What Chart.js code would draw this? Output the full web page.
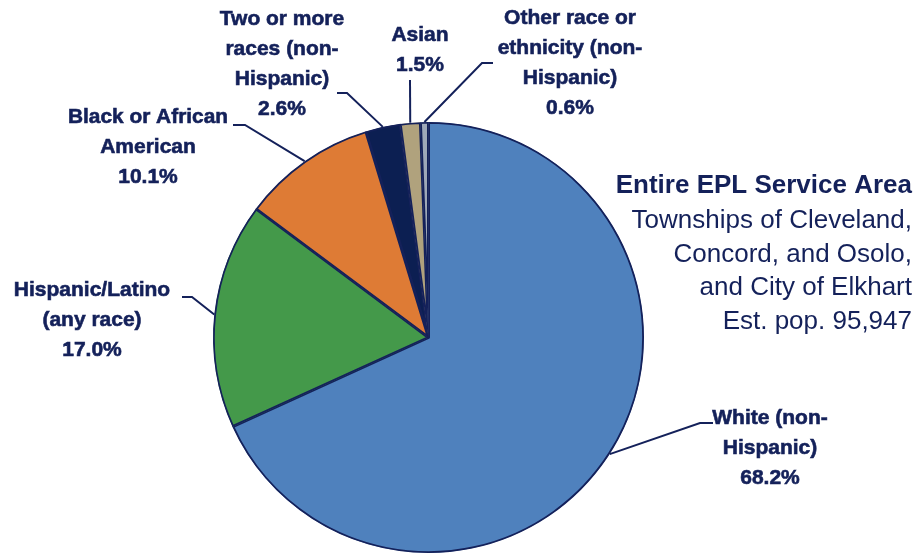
<!DOCTYPE html>
<html lang="en">
<head>
<meta charset="UTF-8">
<title>Entire EPL Service Area - Race and Ethnicity</title>
<script src="https://cdn.jsdelivr.net/npm/chart.js"></script>
<style>
  html, body { margin: 0; padding: 0; background: #ffffff; }
  #wrap { position: relative; width: 915px; height: 554px; }
</style>
</head>
<body>
<div id="wrap"><canvas id="myChart"></canvas></div>
<script>
// chart data
const categories = [
  'White (non-Hispanic)',
  'Hispanic/Latino (any race)',
  'Black or African American',
  'Two or more races (non-Hispanic)',
  'Asian',
  'Other race or ethnicity (non-Hispanic)'
];
const shares = [68.2, 17.0, 10.1, 2.6, 1.5, 0.6];
const sliceColors = ['#4F81BD', '#44994A', '#DE7B35', '#0C1F52', '#B0A27D', '#9EA8B8'];
// how each label is broken into lines (percentage added below)
const labelLines = [
  ['White (non-', 'Hispanic)'],
  ['Hispanic/Latino', '(any race)'],
  ['Black or African', 'American'],
  ['Two or more', 'races (non-', 'Hispanic)'],
  ['Asian'],
  ['Other race or', 'ethnicity (non-', 'Hispanic)']
];
const titleLines = ['Entire EPL Service Area'];
const subtitleLines = ['Townships of Cleveland,', 'Concord, and Osolo,', 'and City of Elkhart', 'Est. pop. 95,947'];

const navy = '#14215A';

// where labels sit and where their leader lines bend
const labelLayout = [
  { cx: 770, y: 418, bend: [700, 423], end: [713, 423] },
  { cx: 92,  y: 290, bend: [192, 297], end: [182, 297] },
  { cx: 148, y: 117, bend: [245, 125], end: [233, 125] },
  { cx: 282, y: 19,  bend: [347, 93],  end: [337, 93] },
  { cx: 420, y: 35,  bend: [410, 80],  end: null },
  { cx: 570, y: 18,  bend: [482, 63],  end: [493, 63] }
];

const labelPlugin = {
  id: 'sliceLabels',
  afterDraw(chart) {
    const ctx = chart.ctx;
    const arcs = chart.getDatasetMeta(0).data;
    ctx.save();
    // leader lines from each slice's outer edge
    ctx.strokeStyle = navy;
    ctx.lineWidth = 2;
    arcs.forEach((arc, i) => {
      const lay = labelLayout[i];
      const mid = (arc.startAngle + arc.endAngle) / 2;
      const sx = arc.x + Math.cos(mid) * arc.outerRadius;
      const sy = arc.y + Math.sin(mid) * arc.outerRadius;
      ctx.beginPath();
      ctx.moveTo(sx, sy);
      ctx.lineTo(lay.bend[0], lay.bend[1]);
      if (lay.end) ctx.lineTo(lay.end[0], lay.end[1]);
      ctx.stroke();
    });
    // label text (thin stroke to get the heavier look)
    ctx.fillStyle = navy;
    ctx.lineWidth = 0.6;
    ctx.textAlign = 'center';
    ctx.textBaseline = 'middle';
    ctx.font = 'bold 21px "Liberation Sans", Arial, sans-serif';
    arcs.forEach((arc, i) => {
      const lay = labelLayout[i];
      const lines = labelLines[i].concat([shares[i].toFixed(1) + '%']);
      lines.forEach((t, k) => {
        ctx.fillText(t, lay.cx, lay.y + k * 30, 160);
        ctx.strokeText(t, lay.cx, lay.y + k * 30, 160);
      });
    });
    // area title on the right
    ctx.textAlign = 'right';
    ctx.font = 'bold 26px "Liberation Sans", Arial, sans-serif';
    titleLines.forEach((t, k) => ctx.fillText(t, 912, 186 + k * 34, 300));
    ctx.font = '26px "Liberation Sans", Arial, sans-serif';
    subtitleLines.forEach((t, k) => ctx.fillText(t, 912, 221 + k * 33.5, 283));
    ctx.restore();
  }
};

const ctx = document.getElementById('myChart').getContext('2d');
new Chart(ctx, {
  type: 'pie',
  data: {
    labels: categories,
    datasets: [{
      data: shares,
      backgroundColor: sliceColors,
      borderColor: navy,
      borderWidth: 1.5,
      borderAlign: 'inner'
    }]
  },
  options: {
    responsive: true,
    maintainAspectRatio: false,
    animation: false,
    layout: { padding: { top: 122, bottom: 1, left: 213, right: 271 } },
    plugins: {
      legend: { display: false },
      tooltip: { enabled: false }
    }
  },
  plugins: [labelPlugin]
});
</script>
</body>
</html>
